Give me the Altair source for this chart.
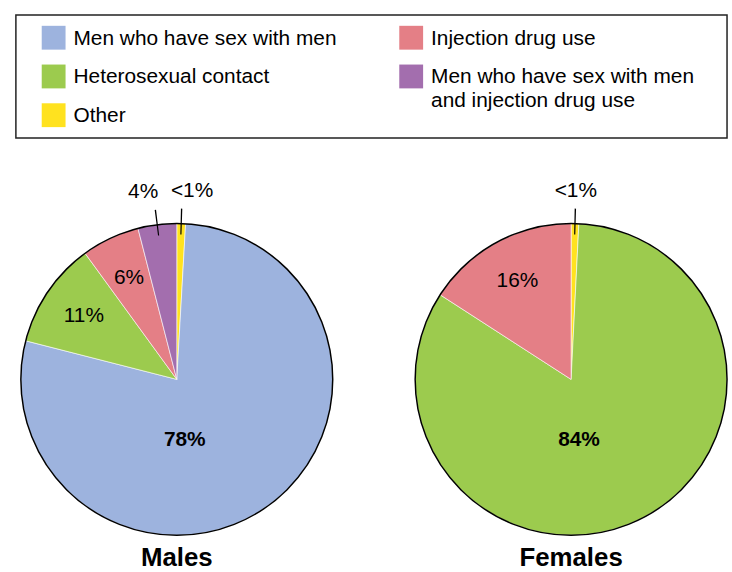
import altair as alt
import pandas as pd

FONT = "Liberation Sans"

# Transmission categories in key order (filled column by column, three per column)
legend_order = [
    "Men who have sex with men",
    "Heterosexual contact",
    "Other",
    "Injection drug use",
    "Men who have sex with men and injection drug use",
]
legend_colors = ["#9DB3DE", "#9CCB4E", "#FFE21F", "#E47F86", "#A36EAE"]

# Slices listed clockwise from 12 o'clock
male_groups = [
    "Other",
    "Men who have sex with men",
    "Heterosexual contact",
    "Injection drug use",
    "Men who have sex with men and injection drug use",
]
male_pct = [0.9, 78, 11, 6, 4]
male_text = ["<1%", "78%", "11%", "6%", "4%"]

female_groups = ["Other", "Heterosexual contact", "Injection drug use"]
female_pct = [0.8, 84, 16]
female_text = ["<1%", "84%", "16%"]

R = 157          # pie radius
VIEW_W = 324     # pie panel width
VIEW_H = 314     # pie panel height
KEY_W, KEY_H = 716, 124

color_scale = alt.Scale(domain=legend_order, range=legend_colors)

# ---- key box -------------------------------------------------------------
key_df = pd.DataFrame({"group": legend_order})
key_base = (
    alt.Chart(key_df)
    .transform_window(idx="row_number()")
    .transform_calculate(
        col="floor((datum.idx - 1) / 3)",
        row="(datum.idx - 1) % 3",
        shown="replace(datum.group, ' and injection', '\\nand injection')",
    )
    .encode(
        x=alt.X("col:Q", scale=alt.Scale(domain=[0, 1], range=[38, 398]), axis=None),
        y=alt.Y("row:Q", scale=alt.Scale(domain=[0, 2], range=[23, 101]), axis=None),
    )
)
key_swatch = key_base.mark_square(size=576, opacity=1, strokeWidth=0).encode(
    color=alt.Color("group:N", scale=color_scale, legend=None)
)
key_label = key_base.mark_text(
    align="left",
    baseline="middle",
    dx=20,
    dy=1,
    font=FONT,
    fontSize=21,
    lineBreak="\n",
    lineHeight=24,
    color="black",
).encode(text="shown:N")

key = alt.layer(key_swatch, key_label).properties(
    width=KEY_W,
    height=KEY_H,
    view=alt.ViewBackground(stroke="#222222", strokeWidth=1.5),
)


# ---- pies ----------------------------------------------------------------
def pie(groups, pct, text, title, nudge):
    df = pd.DataFrame({"group": groups, "pct": pct, "text": text})
    df["slot"] = range(len(df))

    slices = (
        alt.Chart(df)
        .mark_arc(radius=R, stroke="white", strokeWidth=0.6)
        .encode(
            theta=alt.Theta("pct:Q", stack=True),
            order=alt.Order("slot:Q"),
            color=alt.Color("group:N", scale=color_scale, legend=None),
        )
    )

    outline = alt.Chart(df).mark_arc(
        radius=R, filled=False, stroke="black", strokeWidth=1.5
    ).encode(theta=alt.Theta("sum(pct):Q", stack=True))

    # mid-angle (radians, clockwise from 12 o'clock) of every slice
    polar = (
        alt.Chart(df)
        .transform_joinaggregate(total="sum(pct)", top="max(pct)")
        .transform_window(cum="sum(pct)", sort=[alt.SortField("slot")], frame=[None, 0])
        .transform_calculate(mid="2 * PI * (datum.cum - datum.pct / 2) / datum.total")
    )
    mid_theta = alt.Theta("mid:Q", scale=None, stack=False)

    inner = (
        polar.transform_filter("datum.pct >= 5 && datum.pct < datum.top")
        .mark_text(radius=113, font=FONT, fontSize=21, color="black")
        .encode(theta=mid_theta, text="text:N")
    )

    outer_layers = []
    for shift in sorted(set(nudge.values()) | {0}):
        members = [g for g in groups if nudge.get(g, 0) == shift]
        outer_layers.append(
            polar.transform_filter(
                f"datum.pct < 5 && indexof({members}, datum.group) >= 0"
            )
            .mark_text(radius=190, dx=shift, font=FONT, fontSize=21, color="black")
            .encode(theta=mid_theta, text="text:N")
        )

    leaders = (
        polar.transform_filter("datum.pct < 5")
        .transform_calculate(t1="datum.mid - 0.004", t2="datum.mid + 0.004")
        .mark_arc(radius=172, radius2=146, color="black")
        .encode(theta=alt.Theta("t1:Q", scale=None, stack=False), theta2="t2:Q")
    )

    center = (
        polar.transform_filter("datum.pct == datum.top")
        .mark_text(font=FONT, fontSize=21, fontWeight="bold", color="black")
        .encode(x=alt.value(VIEW_W / 2 + 8), y=alt.value(VIEW_H / 2 + 61), text="text:N")
    )

    return alt.layer(slices, outline, inner, *outer_layers, leaders, center).properties(
        width=VIEW_W,
        height=VIEW_H,
        title=alt.TitleParams(
            title,
            orient="bottom",
            anchor="middle",
            frame="group",
            font=FONT,
            fontSize=26,
            fontWeight="bold",
            color="black",
            offset=7,
        ),
    )


males = pie(
    male_groups,
    male_pct,
    male_text,
    "Males",
    {"Other": 10, "Men who have sex with men and injection drug use": -10},
)
females = pie(female_groups, female_pct, female_text, "Females", {})

pies = alt.hconcat(males, females, spacing=73, bounds="flush")

chart = (
    alt.vconcat(key, pies, spacing=86, bounds="flush")
    .properties(padding={"left": 15, "top": 12, "right": 0, "bottom": 8})
    .configure_view(stroke=None)
)

chart.save("out.html", embed_options={"renderer": "svg", "actions": False})
